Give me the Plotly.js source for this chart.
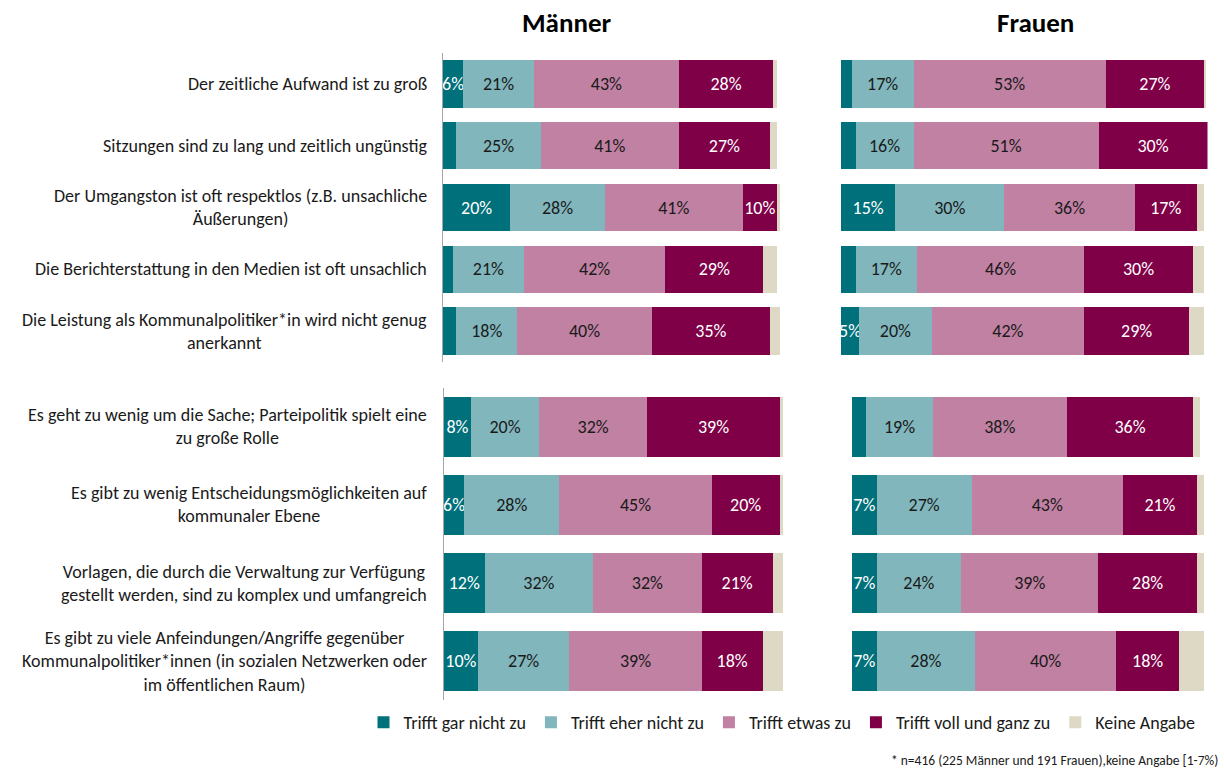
<!DOCTYPE html>
<html>
<head>
<meta charset="utf-8">
<script src="https://cdn.plot.ly/plotly-3.0.1.min.js"></script>
<style>html,body{margin:0;padding:0;background:#fff}#chart{width:1224px;height:770px}</style>
</head>
<body>
<div id="chart"></div>
<script>
// ---------- data ----------
const categories = [
  "Der zeitliche Aufwand ist zu groß",
  "Sitzungen sind zu lang und zeitlich ungünstig",
  "Der Umgangston ist oft respektlos (z.B. unsachliche<br>Äußerungen)",
  "Die Berichterstattung in den Medien ist oft unsachlich",
  "Die Leistung als Kommunalpolitiker*in wird nicht genug<br>anerkannt",
  "Es geht zu wenig um die Sache; Parteipolitik spielt eine<br>zu große Rolle",
  "Es gibt zu wenig Entscheidungsmöglichkeiten auf<br>kommunaler Ebene",
  "Vorlagen, die durch die Verwaltung zur Verfügung<br>gestellt werden, sind zu komplex und umfangreich",
  "Es gibt zu viele Anfeindungen/Angriffe gegenüber<br>Kommunalpolitiker*innen (in sozialen Netzwerken oder<br>im öffentlichen Raum)"
];
const topGroupSize = 5;
const seriesNames = ["Trifft gar nicht zu", "Trifft eher nicht zu", "Trifft etwas zu", "Trifft voll und ganz zu", "Keine Angabe"];
const panelTitles = ["Männer", "Frauen"];
const footnote = "* n=416 (225 Männer und 191 Frauen),keine Angabe [1-7%)";

const menGarNicht   = [6, 4, 20, 3, 4, 8, 6, 12, 10];
const menEherNicht  = [21, 25, 28, 21, 18, 20, 28, 32, 27];
const menEtwas      = [43, 41, 41, 42, 40, 32, 45, 32, 39];
const menVoll       = [28, 27, 10, 29, 35, 39, 20, 21, 18];
const menKeine      = [1, 2, 1, 4, 3, 1, 1, 3, 6];

const womenGarNicht  = [3, 4, 15, 4, 5, 4, 7, 7, 7];
const womenEherNicht = [17, 16, 30, 17, 20, 19, 27, 24, 28];
const womenEtwas     = [53, 51, 36, 46, 42, 38, 43, 39, 40];
const womenVoll      = [27, 30, 17, 30, 29, 36, 21, 28, 18];
const womenKeine     = [0.5, 0, 2, 3, 4, 2, 2, 2, 7];

// ---------- styles ----------
const colors = ["#00707A", "#80B6BC", "#C081A2", "#800048", "#DDD9C4"];
const textColors = ["#FFFFFF", "#1A1A1A", "#1A1A1A", "#FFFFFF", "#1A1A1A"];
const showLabels = [true, true, true, true, false];
const FONT = "Carlito, Calibri, 'Liberation Sans', Arial, sans-serif";

const menSeries = [menGarNicht, menEherNicht, menEtwas, menVoll, menKeine];
const womenSeries = [womenGarNicht, womenEherNicht, womenEtwas, womenVoll, womenKeine];

const topCats = categories.slice(0, topGroupSize);
const bottomCats = categories.slice(topGroupSize);

const panels = [
  {series: menSeries, part: "top", xa: "x", ya: "y", legend: true},
  {series: womenSeries, part: "top", xa: "x2", ya: "y2", legend: false},
  {series: menSeries, part: "bottom", xa: "x3", ya: "y3", legend: false},
  {series: womenSeries, part: "bottom", xa: "x4", ya: "y4", legend: false}
];

const traces = [];
panels.forEach(p => {
  const cats = p.part === "top" ? topCats : bottomCats;
  p.series.forEach((vals, si) => {
    const v = p.part === "top" ? vals.slice(0, topGroupSize) : vals.slice(topGroupSize);
    traces.push({
      type: "bar",
      orientation: "h",
      name: seriesNames[si],
      legendgroup: seriesNames[si],
      showlegend: p.legend,
      x: v,
      y: cats,
      xaxis: p.xa,
      yaxis: p.ya,
      marker: {color: colors[si], line: {width: 0}},
      text: v.map(d => (showLabels[si] && d >= 5) ? d + "%" : ""),
      textposition: "inside",
      insidetextanchor: "middle",
      constraintext: "none",
      textangle: 0,
      insidetextfont: {color: textColors[si], size: 18, family: FONT},
      hoverinfo: "skip"
    });
  });
});

const W = 1224, H = 770;
const px = v => v / W;
const py = v => 1 - v / H;

function xax(l, r, anchor, rng) {
  return {domain: [px(l), px(r)], range: rng, anchor: anchor, showgrid: false, zeroline: false,
          showticklabels: false, showline: false, ticks: "", fixedrange: true};
}
function yax(top, bottom, anchor, cats, line) {
  return {domain: [py(bottom), py(top)], anchor: anchor, type: "category", categoryorder: "array",
          categoryarray: cats, autorange: "reversed", showgrid: false, zeroline: false,
          showticklabels: false, ticks: "", showline: line, linecolor: "#A6A6A6", linewidth: 1, fixedrange: true};
}

const labelFont = {size: 18, color: "#1A1A1A", family: FONT};
const annotations = [];
topCats.forEach(c => annotations.push({text: c, xref: "paper", x: px(429), yref: "y", y: c,
  xanchor: "right", yanchor: "middle", align: "center", showarrow: false, font: labelFont}));
bottomCats.forEach(c => annotations.push({text: c, xref: "paper", x: px(429), yref: "y3", y: c,
  xanchor: "right", yanchor: "middle", align: "center", showarrow: false, font: labelFont}));
annotations.push({text: "<b>" + panelTitles[0] + "</b>", xref: "paper", yref: "paper", x: px(566), y: py(23),
  xanchor: "center", yanchor: "middle", showarrow: false, font: {size: 27, color: "#000", family: FONT}});
annotations.push({text: "<b>" + panelTitles[1] + "</b>", xref: "paper", yref: "paper", x: px(1035), y: py(23),
  xanchor: "center", yanchor: "middle", showarrow: false, font: {size: 27, color: "#000", family: FONT}});
annotations.push({text: footnote, xref: "paper", yref: "paper", x: px(1220), y: py(760),
  xanchor: "right", yanchor: "middle", showarrow: false, font: {size: 13.5, color: "#1A1A1A", family: FONT}});

const layout = {
  width: W, height: H,
  margin: {l: 0, r: 0, t: 0, b: 0, pad: 0},
  paper_bgcolor: "#fff", plot_bgcolor: "#fff",
  barmode: "stack",
  bargap: 0.235,
  font: {family: FONT, size: 18, color: "#1A1A1A"},
  showlegend: true,
  legend: {orientation: "h", x: px(782), xanchor: "center", y: py(704), yanchor: "top",
           font: {size: 18, family: FONT, color: "#1A1A1A"}, traceorder: "normal", itemclick: false},
  xaxis: xax(443, 780, "y", [0, 100]),
  xaxis2: xax(841, 1207.5, "y2", [0, 101]),
  xaxis3: xax(444, 783, "y3", [0, 100]),
  xaxis4: xax(852, 1204, "y4", [0, 100]),
  yaxis: yax(53, 362, "x", topCats, true),
  yaxis2: yax(53, 362, "x2", topCats, false),
  yaxis3: yax(388, 700, "x3", bottomCats, true),
  yaxis4: yax(388, 700, "x4", bottomCats, false),
  annotations: annotations
};

Plotly.newPlot("chart", traces, layout, {displayModeBar: false, staticPlot: true});
</script>
</body>
</html>
